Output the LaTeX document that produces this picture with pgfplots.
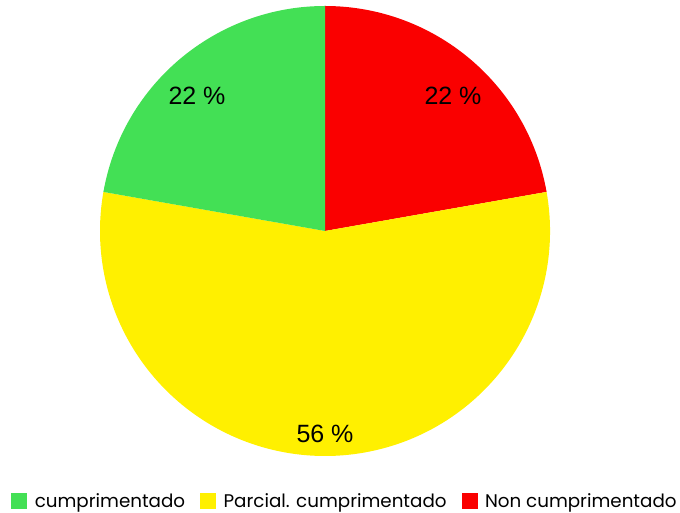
\documentclass[border=0pt]{standalone}
\usepackage{pgfplots}
\pgfplotsset{compat=1.18}
\usepackage{pgfplotstable}
\usepackage{fontspec}
\setmainfont{Liberation Sans}
\newfontfamily\legfont{Poppins}
\definecolor{cgreen}{HTML}{43E055}
\definecolor{cyellow}{HTML}{FFF000}
\definecolor{cred}{HTML}{FA0000}
% counts behind the percentages (22 %, 56 %, 22 %)
\pgfplotstableread{
label value
red 2
yellow 5
green 2
}\piedata
\begin{document}
\begin{tikzpicture}
\begin{axis}[
  width=680pt, height=513pt, scale only axis,
  xmin=0, xmax=680, ymin=0, ymax=513,
  hide axis, clip=false,
  legend columns=3,
  legend style={at={(axis cs:345,12)}, anchor=center, draw=none, fill=none,
    font=\legfont\fontsize{18.3}{20}\selectfont,
    /tikz/every odd column/.append style={column sep=6pt},
    /tikz/every even column/.append style={column sep=13pt},
    inner sep=0pt},
  legend image code/.code={\fill[#1] (0pt,-7.5pt) rectangle (15pt,7.5pt);},
]
\pgfplotstablegetelem{0}{value}\of\piedata \let\vr=\pgfplotsretval
\pgfplotstablegetelem{1}{value}\of\piedata \let\vy=\pgfplotsretval
\pgfplotstablegetelem{2}{value}\of\piedata \let\vg=\pgfplotsretval
\pgfmathsetmacro\tot{\vr+\vy+\vg}
\pgfmathtruncatemacro\pr{round(100*\vr/\tot)}
\pgfmathtruncatemacro\py{round(100*\vy/\tot)}
\pgfmathtruncatemacro\pg{round(100*\vg/\tot)}
\pgfmathsetmacro\aA{90}
\pgfmathsetmacro\aB{90-360*\vr/\tot}
\pgfmathsetmacro\aC{\aB-360*\vy/\tot}
\pgfmathsetmacro\aD{\aC-360*\vg/\tot}
\fill[cred] (axis cs:325,282) -- ++(\aA:225pt) arc[start angle=\aA, end angle=\aB, radius=225pt] -- cycle;
\fill[cyellow] (axis cs:325,282) -- ++(\aB:225pt) arc[start angle=\aB, end angle=\aC, radius=225pt] -- cycle;
\fill[cgreen] (axis cs:325,282) -- ++(\aC:225pt) arc[start angle=\aC, end angle=\aD, radius=225pt] -- cycle;
\node[font=\fontsize{25}{29}\selectfont] at (axis cs:197,417) {\pg\ \%};
\node[font=\fontsize{25}{29}\selectfont] at (axis cs:453,417) {\pr\ \%};
\node[font=\fontsize{25}{29}\selectfont] at (axis cs:325,79) {\py\ \%};
\addlegendimage{cgreen}
\addlegendentry{cumprimentado}
\addlegendimage{cyellow}
\addlegendentry{Parcial. cumprimentado}
\addlegendimage{cred}
\addlegendentry{Non cumprimentado}
\end{axis}
\pgfresetboundingbox
\path (0,0) rectangle (680pt,513pt);
\end{tikzpicture}
\end{document}
